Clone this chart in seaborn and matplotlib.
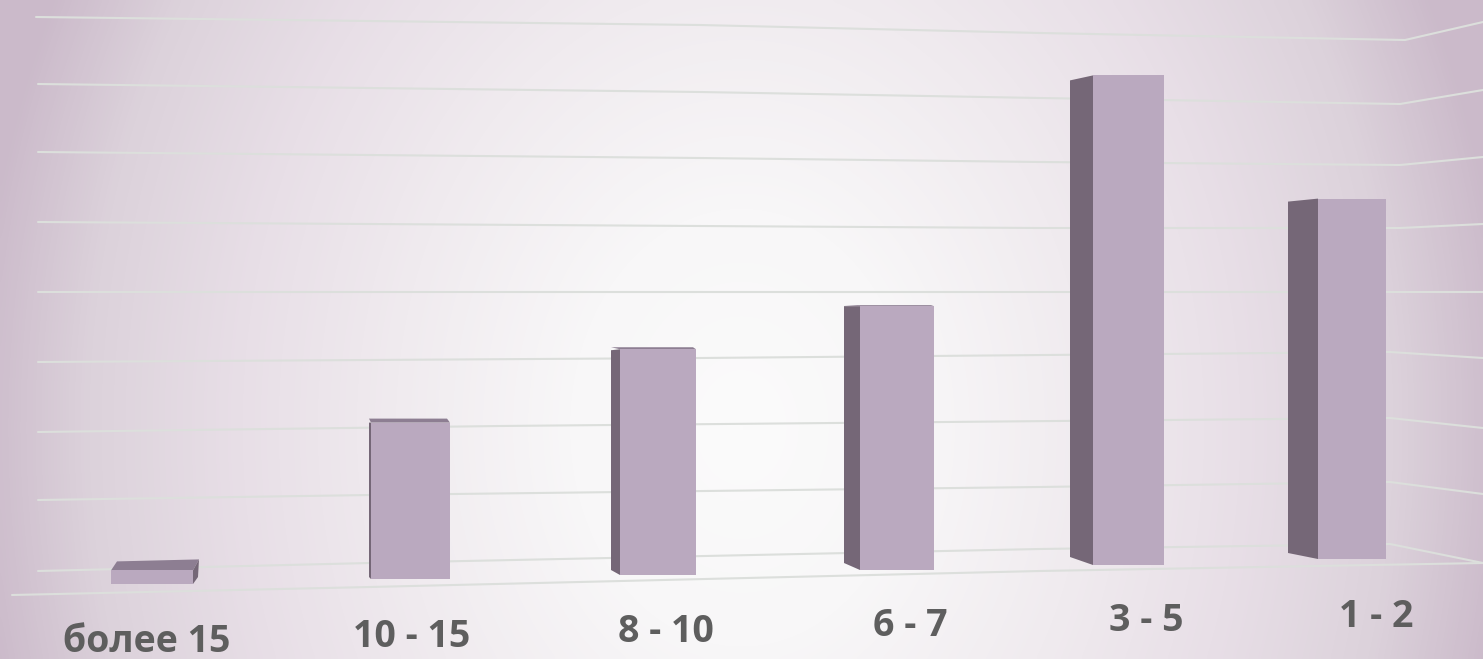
import numpy as np
import pandas as pd
import matplotlib
matplotlib.use("Agg")
import matplotlib.pyplot as plt
from matplotlib.colors import LinearSegmentedColormap
from matplotlib.patches import Polygon
from matplotlib.transforms import Affine2D
import seaborn as sns

# Chart data
categories = ["более 15", "10 - 15", "8 - 10", "6 - 7", "3 - 5", "1 - 2"]
values = [1.0, 11.5, 16.6, 19.4, 36.0, 26.5]

# Page geometry of the pseudo-3D columns, in pixels
WIDTH, HEIGHT = 1483, 659
PX_PER_UNIT = 13.6
front_left = [111, 371, 620, 860, 1093, 1318]
front_right = [193, 450, 696, 934, 1164, 1386]
front_base = [584, 579, 575, 570, 565, 559]
side_dx = [0, 2, 9, 16, 23, 30]
side_top_dy = [0, 0, 1, 0, 5, 3]
side_base_dy = [0, 2, 5, 7, 8, 6]
top_rise = [0, 4, 2, 1, 0, 0]
label_x = [147, 412, 666, 910, 1146, 1376]
label_y = [642, 637, 632, 626, 621, 617]

FRONT = "#baa9bf"
SIDE = "#756777"
TOP = "#8d7e92"
GRID = "#dcdfdc"
INK = "#5e5e5e"

# Wall and floor lines as (x, y) page pixels, running from the left wall to the right one
grid_paths = [
    [(36, 17), (700, 25), (1040, 33), (1405, 40), (1483, 22)],
    [(38, 84), (700, 92), (1040, 98), (1400, 104), (1483, 90)],
    [(38, 152), (700, 158), (1040, 162), (1400, 165), (1483, 157)],
    [(38, 222), (700, 226), (1040, 228), (1400, 228), (1483, 224)],
    [(38, 292), (700, 292), (1400, 292), (1483, 292)],
    [(38, 362), (700, 358), (1390, 352), (1483, 358)],
    [(38, 432), (500, 426), (1390, 418), (1483, 428)],
    [(38, 500), (370, 495), (1040, 487), (1390, 482), (1483, 494)],
    [(38, 571), (370, 563), (1040, 549), (1390, 544), (1483, 563)],
    [(12, 595), (370, 587), (1040, 571), (1483, 563)],
]

sns.set_theme(style="white", rc={"axes.facecolor": "none"})
plt.rcParams["font.family"] = ["Open Sans", "DejaVu Sans"]

fig = plt.figure(figsize=(WIDTH / 100, HEIGHT / 100), dpi=100)
ax = fig.add_axes([0, 0, 1, 1])

# Page coordinates with the origin at the top left
page = Affine2D().scale(1, -1).translate(0, HEIGHT) + fig.dpi_scale_trans.inverted() + fig.dpi_scale_trans

# Soft backdrop: bright centre fading to mauve at the edges
gx, gy = np.meshgrid(np.linspace(0, 1, 371), np.linspace(0, 1, 165))
radius = np.clip(np.sqrt(((gx - 0.50) / 0.52) ** 2 + ((gy - 0.65) / 1.5) ** 2), 0, 1)
backdrop = LinearSegmentedColormap.from_list(
    "backdrop",
    [(0.0, "#fbfbfb"), (0.22, "#f8f7f8"), (0.45, "#f0ebef"), (0.65, "#e8dfe7"), (0.85, "#dcd2db"), (1.0, "#cbbaca")],
)
ax.imshow(radius, cmap=backdrop, vmin=0, vmax=1, extent=(0, WIDTH, HEIGHT, 0),
          transform=page, aspect="auto", zorder=0, interpolation="bicubic")

for path in grid_paths:
    xs, ys = zip(*path)
    ax.plot(xs, ys, color=GRID, lw=1.5, transform=page, zorder=1, solid_capstyle="round")

frame = pd.DataFrame({
    "centre": [(a + b) / 2 for a, b in zip(front_left, front_right)],
    "value": values,
})
sns.barplot(data=frame, x="centre", y="value", native_scale=True, color=FRONT,
            saturation=1, width=0.8, ax=ax, zorder=4, linewidth=0)

ax.set_xlim(0, WIDTH)
ax.set_ylim(0, HEIGHT / PX_PER_UNIT)
ax.axis("off")

# Place each front face on the tilted floor and add its receding faces
for i, bar in enumerate(ax.patches):
    bar.set_x(front_left[i])
    bar.set_width(front_right[i] - front_left[i])
    bar.set_y((HEIGHT - front_base[i]) / PX_PER_UNIT)
    bar.set_linewidth(0)

    left, right = front_left[i], front_right[i]
    base = front_base[i]
    top = base - values[i] * PX_PER_UNIT
    dx = side_dx[i]

    if i == 0:
        # The lowest column is seen from above, with a receding right end
        faces = [
            ([(left, top), (left + 6, top - 9), (right + 6, top - 11), (right, top)], TOP),
            ([(right, top), (right + 6, top - 11), (right + 5, base - 7), (right, base)], SIDE),
        ]
    else:
        faces = [([(left, top), (left - dx, top + side_top_dy[i]),
                   (left - dx, base - side_base_dy[i]), (left, base)], SIDE)]
        if top_rise[i]:
            rise = top_rise[i]
            faces.append(([(left, top), (left - dx, top - rise), (right - 3, top - rise), (right, top)], TOP))
    for points, colour in faces:
        ax.add_patch(Polygon(points, closed=True, facecolor=colour, edgecolor="none",
                             transform=page, zorder=3))

for name, x, y in zip(categories, label_x, label_y):
    ax.text(x, y, name, transform=page, ha="center", va="center",
            fontsize=27, fontweight="bold", color=INK, zorder=5)

fig.savefig("out.png", dpi=100)
